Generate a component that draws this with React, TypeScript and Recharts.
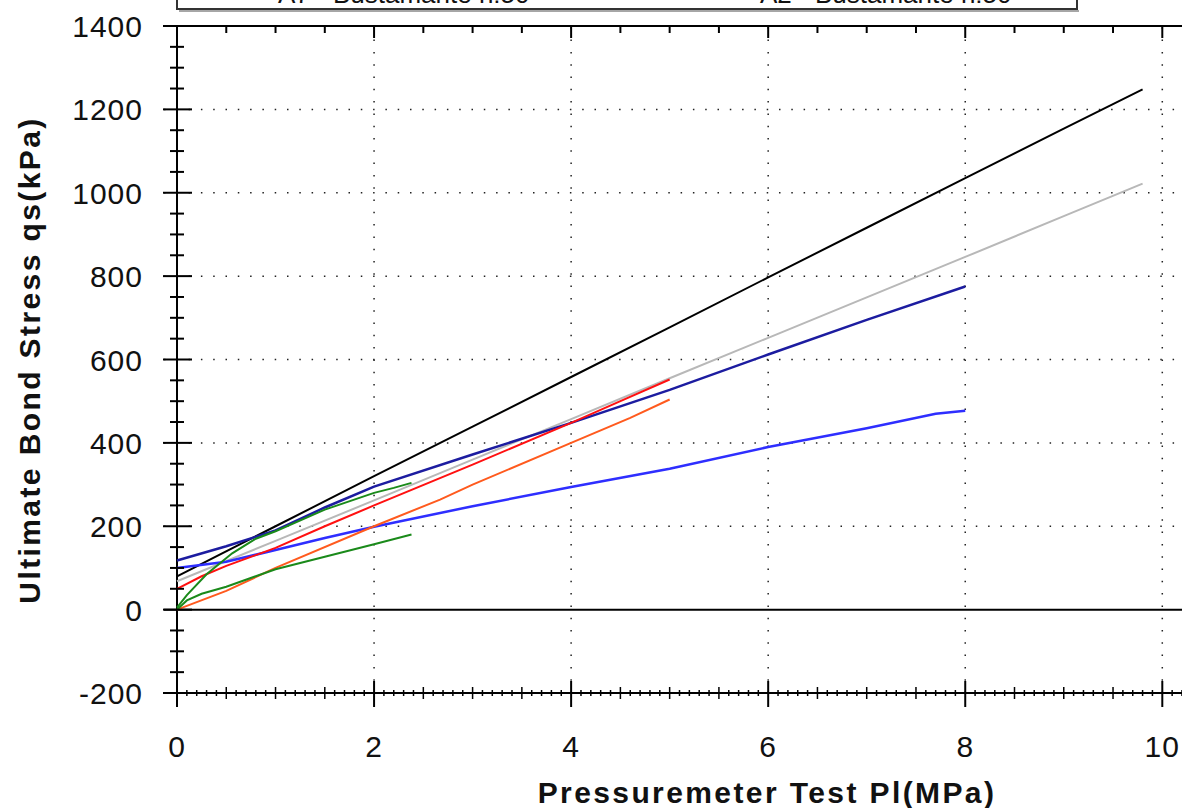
import React from 'react';
import { LineChart, Line, XAxis, YAxis, ReferenceLine } from 'recharts';

// Pl (MPa) / qs (kPa) pairs, one pair of arrays per curve
const plBlack = [0, 1, 2, 3, 4, 5, 6, 7, 8, 9, 9.8];
const qsBlack = [80, 200, 320, 439, 558, 677, 797, 916, 1035, 1154, 1248];

const plGray = [0, 1, 2, 3, 4, 5, 6, 7, 8, 9, 9.8];
const qsGray = [68, 165, 262, 360, 457, 555, 652, 749, 846, 944, 1022];

const plNavy = [0, 0.5, 1, 1.5, 2, 3, 4, 5, 6, 7, 8];
const qsNavy = [118, 152, 190, 245, 295, 372, 448, 527, 612, 695, 775];

const plBlue = [0, 0.5, 1, 1.5, 2, 3, 4, 5, 6, 7, 7.7, 8];
const qsBlue = [100, 115, 143, 172, 199, 248, 294, 338, 390, 435, 470, 477];

const plRed = [0, 0.25, 0.5, 1, 1.5, 2, 3, 4, 4.5, 5];
const qsRed = [50, 80, 105, 148, 200, 250, 348, 448, 500, 552];

const plOrange = [0, 0.5, 1, 2, 2.67, 3, 4, 4.6, 5];
const qsOrange = [0, 45, 100, 200, 264, 300, 400, 460, 504];

const plGreenUpper = [0, 0.1, 0.3, 0.56, 0.8, 1, 1.5, 2, 2.2, 2.38];
const qsGreenUpper = [5, 35, 85, 135, 170, 188, 240, 280, 292, 304];

const plGreenLower = [0, 0.1, 0.25, 0.5, 1, 1.5, 2, 2.38];
const qsGreenLower = [0, 22, 38, 55, 97, 127, 157, 180];

const xTickLabels = [0, 2, 4, 6, 8, 10];
const yTickLabels = [-200, 0, 200, 400, 600, 800, 1000, 1200, 1400];
const xGrid = [2, 4, 6, 8, 10];
const yGrid = [200, 400, 600, 800, 1000, 1200];

const legendTexts = ['A7 - Bustamante n:50', 'A2 - Bustamante n:50'];

const pairs = (xs: number[], ys: number[]) => xs.map((x, i) => ({ x, y: ys[i] }));

const series = [
  { name: 'gray', data: pairs(plGray, qsGray), color: '#b8b8b8', width: 2 },
  { name: 'black', data: pairs(plBlack, qsBlack), color: '#000000', width: 2 },
  { name: 'navy', data: pairs(plNavy, qsNavy), color: '#1c1ca0', width: 2.5 },
  { name: 'blue', data: pairs(plBlue, qsBlue), color: '#2e2eff', width: 2.5 },
  { name: 'orange', data: pairs(plOrange, qsOrange), color: '#ff5a1e', width: 2 },
  { name: 'red', data: pairs(plRed, qsRed), color: '#ff1010', width: 2 },
  { name: 'greenUpper', data: pairs(plGreenUpper, qsGreenUpper), color: '#1a8a1a', width: 2 },
  { name: 'greenLower', data: pairs(plGreenLower, qsGreenLower), color: '#1a8a1a', width: 2 },
];

// tick positions in tenths / fifties, labels only on the majors
const bottomTicks = Array.from({ length: 103 }, (_, i) => i / 10);
const topTicks = Array.from({ length: 21 }, (_, i) => i / 2);
const leftTicks = Array.from({ length: 33 }, (_, i) => -200 + i * 50);

const FONT = '"Liberation Sans", Arial, sans-serif';

const BottomTick = (props: any) => {
  const { x, y, payload } = props;
  const t = Math.round(payload.value * 10);
  if (t % 20 === 0) {
    return (
      <g>
        <line x1={x} x2={x} y1={y - 12} y2={y + 14} stroke="#000" strokeWidth={2} />
        <text x={x} y={y + 64} textAnchor="middle" fontFamily={FONT} fontSize={30} letterSpacing={1} fill="#111">
          {xTickLabels.includes(t / 10) ? t / 10 : ''}
        </text>
      </g>
    );
  }
  const h = t % 5 === 0 ? 6 : 3;
  return <line x1={x} x2={x} y1={y - h} y2={y + h} stroke="#000" strokeWidth={1.5} />;
};

const TopTick = (props: any) => {
  const { x, y, payload } = props;
  const major = Math.round(payload.value * 2) % 4 === 0;
  return <line x1={x} x2={x} y1={y} y2={y + (major ? 12 : 7)} stroke="#000" strokeWidth={2} />;
};

const LeftTick = (props: any) => {
  const { x, y, payload } = props;
  const ax = x + 13;
  const v = payload.value;
  if (v % 200 === 0) {
    return (
      <g>
        <line x1={ax - 14} x2={ax + 15} y1={y} y2={y} stroke="#000" strokeWidth={2} />
        <text x={ax - 34} y={y} dy={11} textAnchor="end" fontFamily={FONT} fontSize={30} letterSpacing={1} fill="#111">
          {yTickLabels.includes(v) ? v : ''}
        </text>
      </g>
    );
  }
  return <line x1={ax - 7} x2={ax + 7} y1={y} y2={y} stroke="#000" strokeWidth={2} />;
};

export default function App() {
  return (
    <div style={{ position: 'absolute', left: 0, top: 0, width: 1182, height: 808, background: '#fff', overflow: 'hidden' }}>
      <LineChart width={1182} height={808} margin={{ top: 1, right: 0, bottom: 0, left: 0 }}>
        <XAxis
          type="number"
          dataKey="x"
          domain={[-0.132, 10.2]}
          allowDataOverflow
          ticks={bottomTicks}
          interval={0}
          height={115}
          tickSize={0}
          tickMargin={0}
          tickLine={false}
          axisLine={{ stroke: '#000', strokeWidth: 2 }}
          tick={<BottomTick />}
        />
        <XAxis
          xAxisId="top"
          orientation="top"
          type="number"
          dataKey="x"
          domain={[-0.132, 10.2]}
          allowDataOverflow
          ticks={topTicks}
          interval={0}
          height={25}
          tickSize={0}
          tickMargin={0}
          tickLine={false}
          axisLine={{ stroke: '#000', strokeWidth: 2 }}
          tick={<TopTick />}
        />
        <YAxis
          type="number"
          domain={[-200, 1400]}
          allowDataOverflow
          ticks={leftTicks}
          interval={0}
          width={164}
          tickSize={0}
          tickMargin={0}
          tickLine={false}
          axisLine={false}
          tick={<LeftTick />}
        />
        {xGrid.map((v) => (
          <ReferenceLine key={`vx-${v}`} x={v} stroke="#222" strokeWidth={1.5} strokeDasharray="1.5 10.8" />
        ))}
        {yGrid.map((v) => (
          <ReferenceLine key={`hy-${v}`} y={v} stroke="#222" strokeWidth={1.5} strokeDasharray="1.5 10.8" />
        ))}
        <ReferenceLine y={0} stroke="#000" strokeWidth={2} />
        <ReferenceLine x={0} stroke="#000" strokeWidth={2} />
        {series.map((s) => (
          <Line
            key={s.name}
            data={s.data}
            dataKey="y"
            type="linear"
            stroke={s.color}
            strokeWidth={s.width}
            dot={false}
            isAnimationActive={false}
          />
        ))}
      </LineChart>
      <svg width={1182} height={808} style={{ position: 'absolute', left: 0, top: 0, pointerEvents: 'none' }}>
        <rect x={177} y={-40} width={900} height={49} fill="#fff" stroke="#333" strokeWidth={2} />
        <line x1={179} x2={1079} y1={11} y2={11} stroke="#888" strokeWidth={1.5} />
        <text x={278} y={3} fontFamily={FONT} fontSize={26} fill="#111">{legendTexts[0]}</text>
        <text x={760} y={3} fontFamily={FONT} fontSize={26} fill="#111">{legendTexts[1]}</text>
        <text
          transform="translate(40,360) rotate(-90)"
          textAnchor="middle"
          fontFamily={FONT}
          fontWeight="bold"
          fontSize={30}
          letterSpacing={2.4}
          fill="#111"
        >
          Ultimate Bond Stress qs(kPa)
        </text>
        <text
          x={767}
          y={803}
          textAnchor="middle"
          fontFamily={FONT}
          fontWeight="bold"
          fontSize={30}
          letterSpacing={2.4}
          fill="#111"
        >
          Pressuremeter Test Pl(MPa)
        </text>
      </svg>
    </div>
  );
}
